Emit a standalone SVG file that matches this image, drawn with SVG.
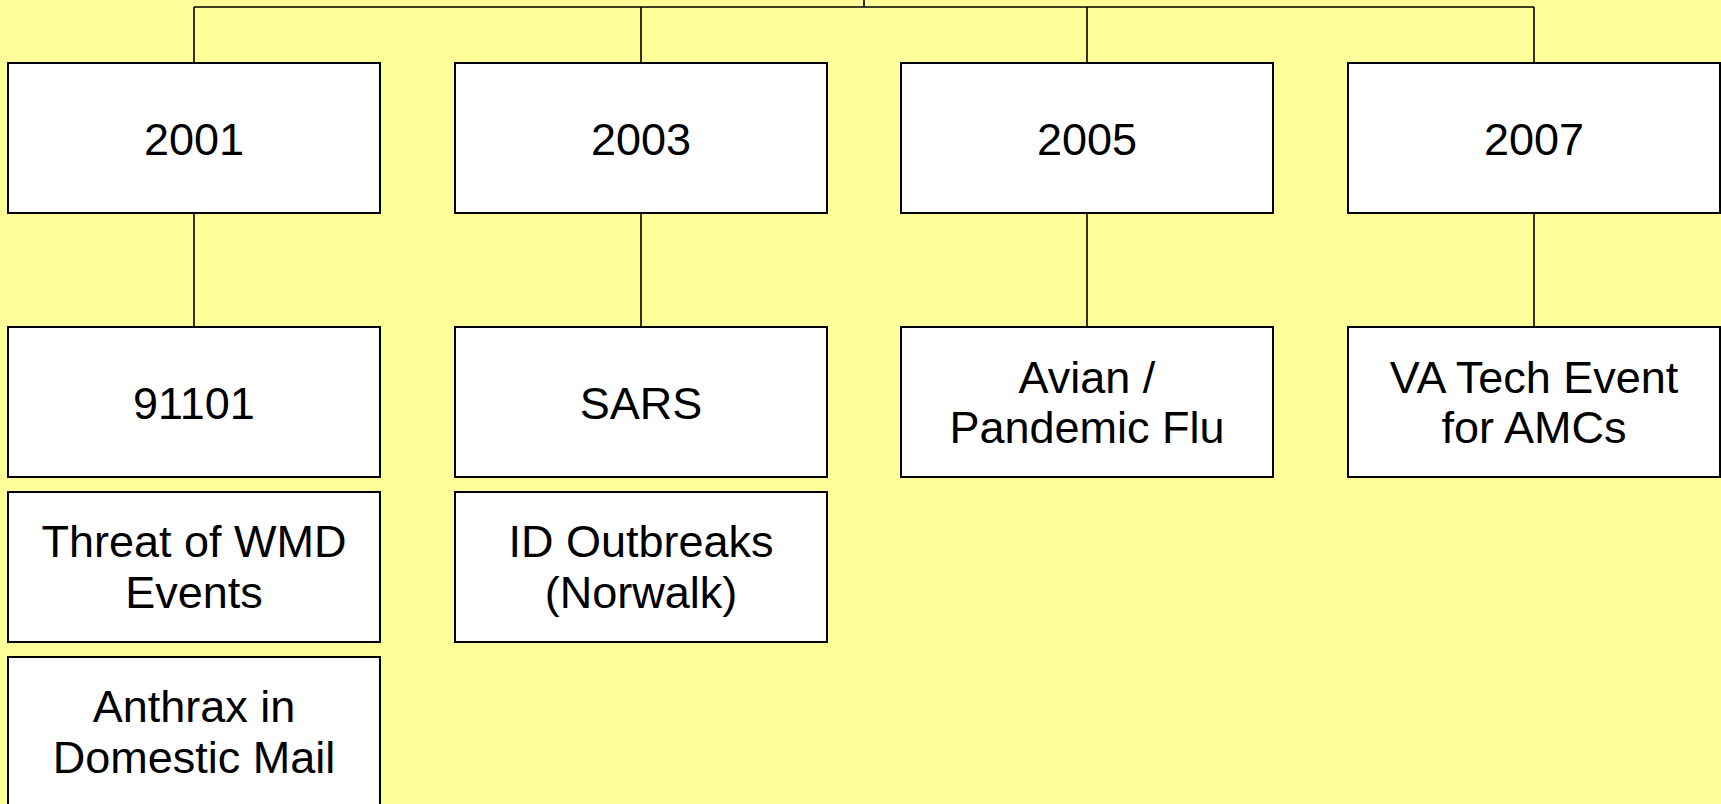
<svg xmlns="http://www.w3.org/2000/svg" width="1721" height="804" viewBox="0 0 1721 804">
<style>
.box{fill:#ffffff;stroke:#000000;stroke-width:2}
.lbl{font-family:"Liberation Sans",Arial,sans-serif;font-size:45px;fill:#000000;text-anchor:middle}
.con{fill:none;stroke:#000000;stroke-width:1.6}
</style>
<rect x="0" y="0" width="1721" height="804" fill="#ffff99"/>
<g id="connectors">
<path class="con" d="M864,0 V7 M194,7 H1534 M194,7 V63 M641,7 V63 M1087,7 V63 M1534,7 V63"/>
<path class="con" d="M194,213 V327 M641,213 V327 M1087,213 V327 M1534,213 V327"/>
</g>
<g id="n2001"><rect class="box" x="8" y="63" width="372" height="150"/><text class="lbl" x="194" y="155">2001</text></g>
<g id="n2003"><rect class="box" x="455" y="63" width="372" height="150"/><text class="lbl" x="641" y="155">2003</text></g>
<g id="n2005"><rect class="box" x="901" y="63" width="372" height="150"/><text class="lbl" x="1087" y="155">2005</text></g>
<g id="n2007"><rect class="box" x="1348" y="63" width="372" height="150"/><text class="lbl" x="1534" y="155">2007</text></g>
<g id="n91101"><rect class="box" x="8" y="327" width="372" height="150"/><text class="lbl" x="194" y="419">91101</text></g>
<g id="nSARS"><rect class="box" x="455" y="327" width="372" height="150"/><text class="lbl" x="641" y="419">SARS</text></g>
<g id="nAvian"><rect class="box" x="901" y="327" width="372" height="150"/><text class="lbl" x="1087" y="393">Avian /</text><text class="lbl" x="1087" y="443">Pandemic Flu</text></g>
<g id="nVATech"><rect class="box" x="1348" y="327" width="372" height="150"/><text class="lbl" x="1534" y="393">VA Tech Event</text><text class="lbl" x="1534" y="443">for AMCs</text></g>
<g id="nWMD"><rect class="box" x="8" y="492" width="372" height="150"/><text class="lbl" x="194" y="557">Threat of WMD</text><text class="lbl" x="194" y="608">Events</text></g>
<g id="nID"><rect class="box" x="455" y="492" width="372" height="150"/><text class="lbl" x="641" y="557">ID Outbreaks</text><text class="lbl" x="641" y="608">(Norwalk)</text></g>
<g id="nAnthrax"><rect class="box" x="8" y="657" width="372" height="150"/><text class="lbl" x="194" y="722">Anthrax in</text><text class="lbl" x="194" y="773">Domestic Mail</text></g>
</svg>
